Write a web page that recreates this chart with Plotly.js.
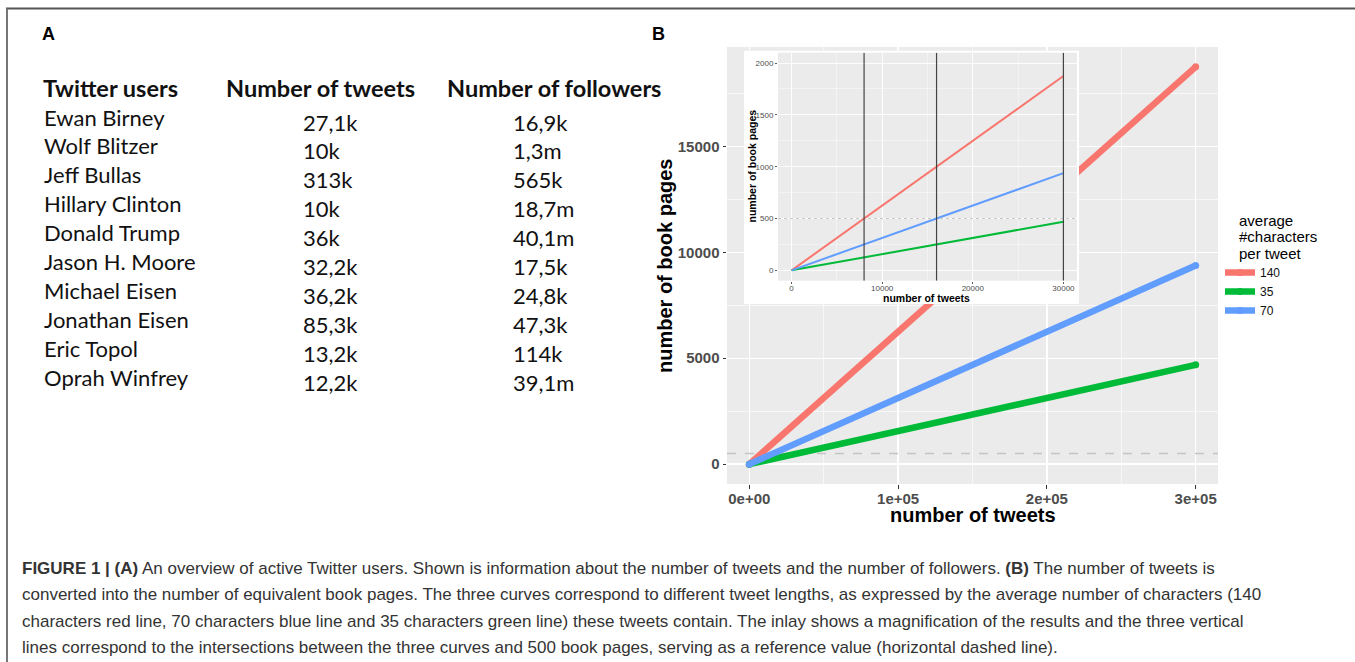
<!DOCTYPE html>
<html><head><meta charset="utf-8">
<script src="https://cdn.plot.ly/plotly-3.0.1.min.js"></script>
<style>html,body{margin:0;padding:0;background:#fff;overflow:hidden}#chart{width:1355px;height:662px}</style>
</head><body><div id="chart"></div>
<script>
// ---------- data ----------
const tableHeaders = ['Twitter users', 'Number of tweets', 'Number of followers'];
const users = ['Ewan Birney','Wolf Blitzer','Jeff Bullas','Hillary Clinton','Donald Trump','Jason H. Moore','Michael Eisen','Jonathan Eisen','Eric Topol','Oprah Winfrey'];
const tweetCounts = ['27,1k','10k','313k','10k','36k','32,2k','36,2k','85,3k','13,2k','12,2k'];
const followerCounts = ['16,9k','1,3m','565k','18,7m','40,1m','17,5k','24,8k','47,3k','114k','39,1m'];

const seriesNames = ['140', '35', '70'];
const mainTweets = [0, 300000];
const mainPages140 = [0, 18750];
const mainPages35 = [0, 4687.5];
const mainPages70 = [0, 9375];
const insetTweets = [0, 30000];
const insetPages140 = [0, 1875];
const insetPages35 = [0, 468.75];
const insetPages70 = [0, 937.5];
const referencePages = 500;
const intersectionTweets = [8000, 16000, 30000];

const mainXTickVals = [0, 100000, 200000, 300000];
const mainXTickText = ['0e+00', '1e+05', '2e+05', '3e+05'];
const mainYTickVals = [0, 5000, 10000, 15000];
const insetXTickVals = [0, 10000, 20000, 30000];
const insetYTickVals = [0, 500, 1000, 1500, 2000];

const captionLines = [
  '<b>FIGURE 1 | (A)</b> An overview of active Twitter users. Shown is information about the number of tweets and the number of followers. <b>(B)</b> The number of tweets is',
  'converted into the number of equivalent book pages. The three curves correspond to different tweet lengths, as expressed by the average number of characters (140',
  'characters red line, 70 characters blue line and 35 characters green line) these tweets contain. The inlay shows a magnification of the results and the three vertical',
  'lines correspond to the intersections between the three curves and 500 book pages, serving as a reference value (horizontal dashed line).'
];

// ---------- layout helpers ----------
const W = 1355, H = 662;
const px = v => v / W;
const py = v => 1 - v / H;
const expand = (lo, hi) => [lo - 0.05 * (hi - lo), hi + 0.05 * (hi - lo)];
const colors = ['#F8766D', '#00BA38', '#619CFF'];
const SANS = 'Liberation Sans, Arial, Helvetica, sans-serif';
const TABLEFONT = 'Lato, Open Sans, sans-serif';

const mainX = expand(Math.min(...mainTweets), Math.max(...mainTweets));
const mainY = expand(0, Math.max(...mainPages140));
const insetX = expand(Math.min(...insetTweets), Math.max(...insetTweets));
const insetY = expand(0, Math.max(...insetYTickVals));

const mainSeries = [mainPages140, mainPages35, mainPages70];
const insetSeries = [insetPages140, insetPages35, insetPages70];

const traces = [];
mainSeries.forEach((ys, i) => traces.push({
  type: 'scatter', mode: 'lines+markers', x: mainTweets, y: ys, name: seriesNames[i],
  line: {color: colors[i], width: 6.5}, marker: {color: colors[i], size: 7},
  xaxis: 'x', yaxis: 'y', hoverinfo: 'skip'
}));
insetSeries.forEach((ys, i) => traces.push({
  type: 'scatter', mode: 'lines', x: insetTweets, y: ys, name: seriesNames[i],
  line: {color: colors[i], width: 2}, showlegend: false,
  xaxis: 'x3', yaxis: 'y3', hoverinfo: 'skip'
}));

const tickFontMain = {family: SANS, size: 15, color: '#4D4D4D', weight: 'bold'};
const tickFontInset = {family: SANS, size: 8, color: '#4D4D4D'};

const annotations = [];
function txt(text, x, y, opts) {
  annotations.push(Object.assign({
    text: text, x: px(x), y: py(y), xref: 'paper', yref: 'paper',
    xanchor: 'left', yanchor: 'middle', showarrow: false,
    font: {family: SANS, size: 14, color: '#000'}
  }, opts || {}));
}
// panel labels
txt('<b>A</b>', 40, 34, {font: {family: SANS, size: 18, color: '#000'}});
txt('<b>B</b>', 650, 34, {font: {family: SANS, size: 18, color: '#000'}});
// table
const colX = [41, 224, 445];
const valX = [42, 301, 511];
const TF = {family: TABLEFONT, size: 22, color: '#111'};
tableHeaders.forEach((h, j) => txt('<b>' + h + '</b>', colX[j], 88, {font: {family: TABLEFONT, size: 23.5, color: '#111'}}));
users.forEach((u, i) => {
  const y = 117 + i * 28.9;
  txt(u, valX[0], y, {font: TF});
  txt(tweetCounts[i], valX[1], y + 5, {font: TF});
  txt(followerCounts[i], valX[2], y + 5, {font: TF});
});
// axis titles
txt('<b>number of book pages</b>', 665, 266, {xanchor: 'center', textangle: -90, font: {family: SANS, size: 20, color: '#000'}});
txt('<b>number of tweets</b>', 972.5, 515, {xanchor: 'center', font: {family: SANS, size: 20, color: '#000'}});
txt('<b>number of book pages</b>', 751, 166.5, {xanchor: 'center', textangle: -90, font: {family: SANS, size: 10.5, color: '#000'}});
txt('<b>number of tweets</b>', 927, 298, {xanchor: 'center', font: {family: SANS, size: 10.5, color: '#000'}});
// legend title
['average', '#characters', 'per tweet'].forEach((t, i) => txt(t, 1237, 221 + i * 16, {font: {family: SANS, size: 15, color: '#000'}}));
// caption
captionLines.forEach((t, i) => txt(t, 20, 568 + i * 26.5, {font: {family: SANS, size: 17, color: '#333'}}));

const shapes = [
  // frame lines
  {type: 'line', xref: 'paper', yref: 'paper', x0: px(6), x1: 1, y0: py(8.5), y1: py(8.5), line: {color: '#555', width: 2}, layer: 'above'},
  {type: 'line', xref: 'paper', yref: 'paper', x0: px(7), x1: px(7), y0: py(8.5), y1: 0, line: {color: '#777', width: 2}, layer: 'above'},
  // reference line, main panel
  {type: 'line', xref: 'x', yref: 'y', x0: mainX[0], x1: mainX[1], y0: referencePages, y1: referencePages, line: {color: '#C4C4C4', width: 1.5, dash: 'dash'}, layer: 'between'},
  // white background of inset
  {type: 'rect', xref: 'x2', yref: 'y2', x0: 0, x1: 1, y0: 0, y1: 1, fillcolor: '#FFFFFF', line: {width: 0}, layer: 'below'},
  // reference line, inset
  {type: 'line', xref: 'x3', yref: 'y3', x0: insetX[0], x1: insetX[1], y0: referencePages, y1: referencePages, line: {color: '#C8C8C8', width: 1, dash: 'dot'}, layer: 'between'}
];
intersectionTweets.forEach(v => shapes.push({
  type: 'line', xref: 'x3', yref: 'y3', x0: v, x1: v, y0: insetY[0], y1: insetY[1],
  line: {color: '#444', width: 1.2}, layer: 'above'
}));

const gridMain = {showgrid: true, gridcolor: '#FFFFFF', gridwidth: 1.4, zeroline: false, showline: false,
  ticks: 'outside', ticklen: 3.5, tickwidth: 1, tickcolor: '#333'};
const gridInset = {showgrid: true, gridcolor: '#FFFFFF', gridwidth: 0.8, zeroline: false, showline: false,
  ticks: 'outside', ticklen: 2, tickwidth: 0.8, tickcolor: '#333'};

const layout = {
  width: W, height: H, margin: {l: 0, r: 0, t: 0, b: 0},
  paper_bgcolor: '#FFFFFF', plot_bgcolor: '#EBEBEB',
  showlegend: true,
  legend: {x: px(1220), y: py(258), xanchor: 'left', yanchor: 'top', bgcolor: 'rgba(0,0,0,0)',
    font: {family: SANS, size: 12, color: '#111'}, traceorder: 'normal', itemclick: false},
  xaxis: Object.assign({}, gridMain, {domain: [px(727), px(1218)], anchor: 'y', range: mainX,
    tickmode: 'array', tickvals: mainXTickVals, ticktext: mainXTickText, tickfont: tickFontMain,
    ticklabelstandoff: -3,
    minor: {dtick: 50000, tick0: 0, showgrid: true, gridcolor: '#FFFFFF', gridwidth: 0.6, ticks: ''}}),
  yaxis: Object.assign({}, gridMain, {domain: [py(484), py(47)], anchor: 'x', range: mainY,
    tickmode: 'array', tickvals: mainYTickVals, tickformat: 'd', tickfont: tickFontMain,
    minor: {dtick: 2500, tick0: 0, showgrid: true, gridcolor: '#FFFFFF', gridwidth: 0.6, ticks: ''}}),
  xaxis2: {domain: [px(744), px(1079)], anchor: 'y2', range: [0, 1], showgrid: false, zeroline: false,
    showticklabels: false, ticks: '', showline: false, fixedrange: true},
  yaxis2: {domain: [py(304), py(50.5)], anchor: 'x2', range: [0, 1], showgrid: false, zeroline: false,
    showticklabels: false, ticks: '', showline: false, fixedrange: true},
  xaxis3: Object.assign({}, gridInset, {domain: [px(778), px(1077)], anchor: 'y3', range: insetX,
    tickmode: 'array', tickvals: insetXTickVals, tickformat: 'd', tickfont: tickFontInset,
    ticklabelstandoff: -2,
    minor: {dtick: 5000, tick0: 0, showgrid: true, gridcolor: '#FFFFFF', gridwidth: 0.4, ticks: ''}}),
  yaxis3: Object.assign({}, gridInset, {domain: [py(280.7), py(52.7)], anchor: 'x3', range: insetY,
    tickmode: 'array', tickvals: insetYTickVals, tickformat: 'd', tickfont: tickFontInset,
    minor: {dtick: 250, tick0: 0, showgrid: true, gridcolor: '#FFFFFF', gridwidth: 0.4, ticks: ''}}),
  annotations: annotations,
  shapes: shapes
};

Plotly.newPlot('chart', traces, layout, {staticPlot: true, displayModeBar: false});
</script>
</body></html>
